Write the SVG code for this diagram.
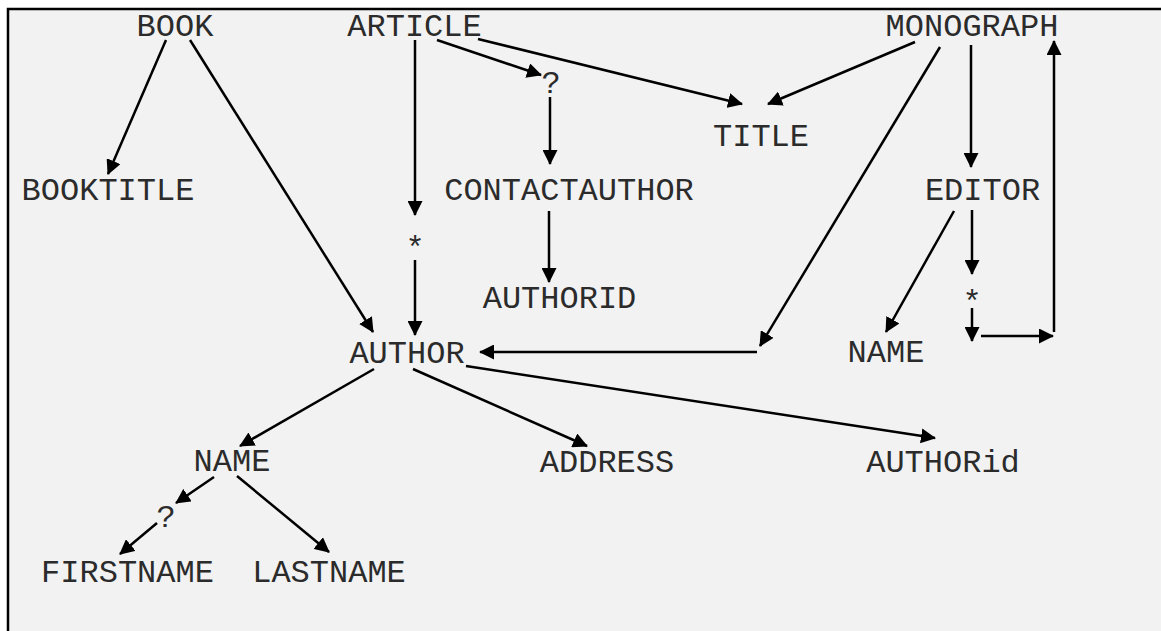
<svg xmlns="http://www.w3.org/2000/svg" width="1161" height="631" viewBox="0 0 1161 631">
<style>
.t{font-family:"Liberation Mono","Courier New",monospace;font-size:32px;fill:#2b2b2b;text-anchor:middle}
.c line{stroke:#000;stroke-width:2.5;fill:none;marker-end:url(#ah)}
</style>
<defs>
<marker id="ah" viewBox="0 0 15 15" refX="14" refY="7.5" markerWidth="15" markerHeight="15" markerUnits="userSpaceOnUse" orient="auto">
<path d="M0,0 L15,7.5 L0,15 Z" fill="#000"/>
</marker>
</defs>
<rect x="0" y="0" width="1161" height="631" fill="#fff"/>
<rect x="8" y="9" width="1170" height="640" fill="#f2f2f2" stroke="#000" stroke-width="2.5"/>
<g id="book"><text class="t" x="175" y="36">BOOK</text></g>
<g id="article"><text class="t" x="414.5" y="36">ARTICLE</text></g>
<g id="monograph"><text class="t" x="972" y="36">MONOGRAPH</text></g>
<g id="booktitle"><text class="t" x="108" y="200">BOOKTITLE</text></g>
<g id="title"><text class="t" x="761" y="146">TITLE</text></g>
<g id="contactauthor"><text class="t" x="569" y="200">CONTACTAUTHOR</text></g>
<g id="editor"><text class="t" x="982.5" y="200">EDITOR</text></g>
<g id="star1"><text class="t" x="415" y="258">*</text></g>
<g id="q1"><text class="t" x="551" y="93">?</text></g>
<g id="authorid"><text class="t" x="559.5" y="308">AUTHORID</text></g>
<g id="author"><text class="t" x="407" y="363">AUTHOR</text></g>
<g id="name2"><text class="t" x="886" y="362">NAME</text></g>
<g id="star2"><text class="t" x="972" y="312">*</text></g>
<g id="name1"><text class="t" x="232" y="471">NAME</text></g>
<g id="address"><text class="t" x="607" y="472">ADDRESS</text></g>
<g id="authorid2"><text class="t" x="943" y="472">AUTHORid</text></g>
<g id="q2"><text class="t" x="166" y="527">?</text></g>
<g id="firstname"><text class="t" x="127.5" y="582">FIRSTNAME</text></g>
<g id="lastname"><text class="t" x="329" y="582">LASTNAME</text></g>
<g id="connectors" class="c">
<line x1="166" y1="40" x2="108" y2="174"/>
<line x1="190" y1="40" x2="373" y2="332"/>
<line x1="415" y1="40" x2="415" y2="215"/>
<line x1="415" y1="260" x2="415" y2="335"/>
<line x1="437" y1="40" x2="541" y2="75"/>
<line x1="550" y1="97" x2="550" y2="164"/>
<line x1="478" y1="39" x2="742" y2="104"/>
<line x1="915" y1="42" x2="768" y2="104"/>
<line x1="549" y1="211" x2="549" y2="282"/>
<line x1="940" y1="47" x2="760" y2="346"/>
<line x1="757" y1="352" x2="480" y2="352"/>
<line x1="971" y1="45" x2="971" y2="167"/>
<line x1="954" y1="211" x2="886" y2="332"/>
<line x1="972" y1="210" x2="972" y2="274"/>
<line x1="972" y1="308" x2="972" y2="341"/>
<line x1="981" y1="336" x2="1053" y2="336"/>
<line x1="1054" y1="332" x2="1054" y2="41"/>
<line x1="374" y1="369" x2="240" y2="446"/>
<line x1="413" y1="369" x2="587" y2="446"/>
<line x1="466" y1="366" x2="935" y2="438"/>
<line x1="214" y1="477" x2="176" y2="503"/>
<line x1="157" y1="523" x2="120" y2="554"/>
<line x1="237" y1="476" x2="329" y2="552"/>
</g>
</svg>
